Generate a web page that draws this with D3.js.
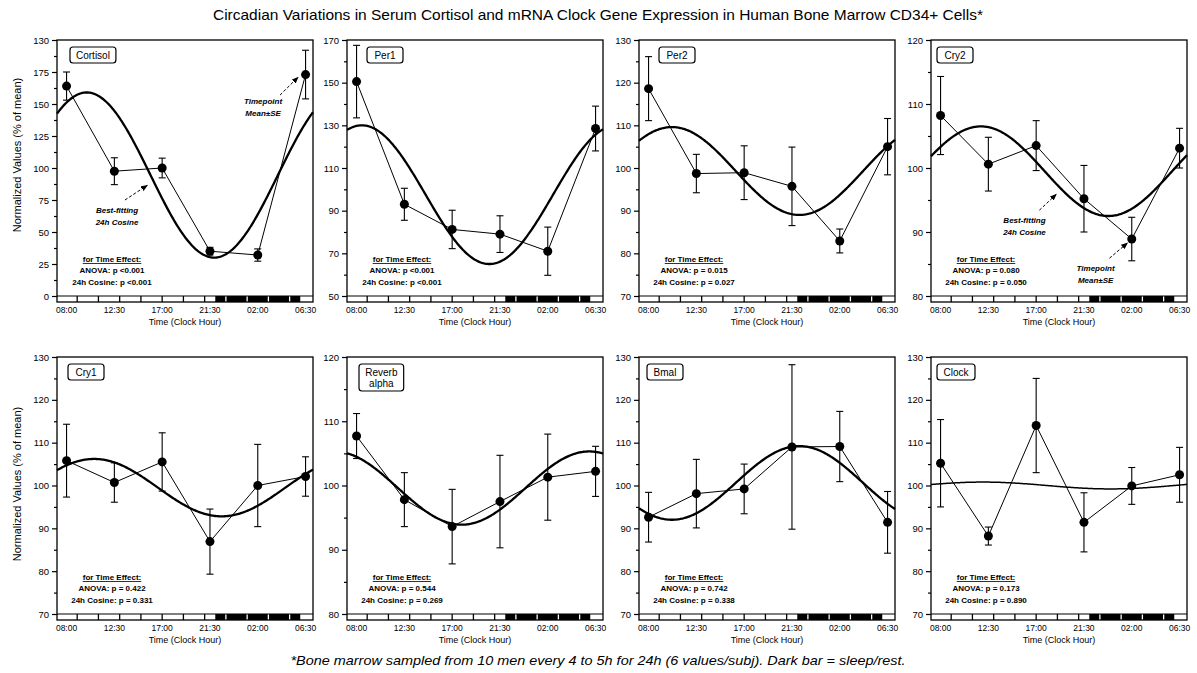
<!DOCTYPE html>
<html lang="en">
<head>
<meta charset="utf-8">
<title>Circadian Variations | Bone Marrow CD34+</title>
<script src="https://cdn.jsdelivr.net/npm/d3@7"></script>
<style>
  body { margin: 0; background: #fff; }
  svg { font-family: "Liberation Sans", Arial, sans-serif; }
</style>
</head>
<body>
<svg id="chart" width="1197" height="673"></svg>
<script>

/////////////////////
// Data
// sample times in clock hours (02:00 and 06:30 are on the next day)
var times = [8, 12.5, 17, 21.5, 26, 30.5];
var timeLabels = ["08:00", "12:30", "17:00", "21:30", "02:00", "06:30"];
var sleepStart = 22, sleepEnd = 30;
var barDividers = [9, 11, 13, 15, 17, 19, 21, 23, 25, 27, 29];

var genes = ["Cortisol", "Per1", "Per2", "Cry2", "Cry1", "Reverb alpha", "Bmal", "Clock"];

var means = [
  [164, 97.5, 100, 35, 32, 173],
  [150.5, 93, 81.2, 79, 71, 128.5],
  [118.6, 98.7, 98.9, 95.7, 82.9, 105],
  [108.2, 100.6, 103.5, 95.2, 88.9, 103.1],
  [105.8, 100.7, 105.5, 86.9, 100, 102.1],
  [107.7, 97.8, 93.6, 97.5, 101.3, 102.2],
  [92.6, 98.1, 99.2, 109, 109.1, 91.4],
  [105.2, 88.2, 114, 91.4, 99.9, 102.5]
];
var ses = [
  [11, 10.5, 7.7, 3, 4.8, 19],
  [17, 7.5, 9, 8.6, 11.3, 10.5],
  [7.5, 4.5, 6.3, 9.2, 2.8, 6.6],
  [6.1, 4.2, 3.9, 5.2, 3.4, 3.1],
  [8.5, 4.6, 6.8, 7.6, 9.6, 4.6],
  [3.5, 4.2, 5.8, 7.2, 6.7, 3.9],
  [5.8, 8, 5.8, 19.2, 8.2, 7.2],
  [10.2, 2.1, 11, 6.9, 4.3, 6.4]
];

// best-fitting 24h cosine: mesor, amplitude, acrophase (clock hour)
var cosMesor = [94.5, 97.5, 99.3, 99.5, 99.5, 99.6, 100.6, 100];
var cosAmp   = [64.5, 32.5, 10.3, 7, 6.7, 5.7, 8.6, 0.8];
var cosAcro  = [9.9, 8.5, 10.2, 11.8, 10.6, 29.9, 22.2, 12];

var anovaP  = ["p <0.001", "p <0.001", "p = 0.015", "p = 0.080", "p = 0.422", "p = 0.544", "p = 0.742", "p = 0.173"];
var cosineP = ["p <0.001", "p <0.001", "p = 0.027", "p = 0.050", "p = 0.331", "p = 0.269", "p = 0.338", "p = 0.890"];

var yDomains = [[0, 200], [50, 170], [70, 130], [80, 120], [70, 130], [80, 120], [70, 130], [70, 130]];
var yMajor = [25, 20, 10, 10, 10, 10, 10, 10];
// the cortisol panel prints "130" at its top tick
var cortisolTickText = ["0", "25", "50", "75", "100", "125", "150", "175", "130"];

// arrow notes: panel, text lines, text anchor [hour, value], arrow from/to [hour, value]
var notes = [
  {panel: 0, lines: ["Best-fitting", "24h Cosine"], at: [12.75, 67], from: [13.5, 75], to: [15.6, 86.5]},
  {panel: 0, lines: ["Timepoint", "Mean\u00b1SE"], at: [26.5, 152], from: [28.1, 157], to: [29.8, 171]},
  {panel: 3, lines: ["Best-fitting", "24h Cosine"], at: [15.9, 91.9], from: [17.3, 93.4], to: [18.9, 95.9]},
  {panel: 3, lines: ["Timepoint", "Mean\u00b1SE"], at: [22.6, 84.4], from: [23.9, 85.9], to: [25.6, 88.3]}
];

/////////////////////
// Layout
var svg = d3.select("#chart");
var panelLeft = [57, 347, 639, 931],
    panelW = 256,
    rowTop = [40, 357],
    rowBottom = [296, 614],
    barH = 6;
var labelBoxX = [13, 20, 20, 6, 11, 12, 8, 6];
var xDomain = [7.1, 31.2];

svg.append("defs").append("marker")
    .attr("id", "arrow")
    .attr("viewBox", "0 0 10 10")
    .attr("refX", 9).attr("refY", 5)
    .attr("markerWidth", 7).attr("markerHeight", 7)
    .attr("orient", "auto")
  .append("path")
    .attr("d", "M0,1 L10,5 L0,9 Z")
    .attr("fill", "#000");

// title + footnote
svg.append("text")
    .attr("x", 598).attr("y", 20)
    .attr("text-anchor", "middle")
    .attr("font-size", 15)
    .attr("textLength", 770).attr("lengthAdjust", "spacingAndGlyphs")
    .text("Circadian Variations in Serum Cortisol and mRNA Clock Gene Expression in Human Bone Marrow CD34+ Cells*");

svg.append("text")
    .attr("x", 598).attr("y", 665)
    .attr("text-anchor", "middle")
    .attr("font-size", 13).attr("font-style", "italic")
    .attr("textLength", 615).attr("lengthAdjust", "spacingAndGlyphs")
    .text("*Bone marrow sampled from 10 men every 4 to 5h for 24h (6 values/subj). Dark bar = sleep/rest.");

// y titles, one per row
rowTop.forEach(function(t, r) {
  var cy = r === 0 ? 155 : 484;
  svg.append("text")
      .attr("transform", "translate(18," + cy + ") rotate(-90)")
      .attr("text-anchor", "middle")
      .attr("dominant-baseline", "middle")
      .attr("font-size", 11)
      .text("Normalized Values (% of mean)");
});

genes.forEach(function(gene, i) {
  var row = Math.floor(i / 4), col = i % 4;
  var left = panelLeft[col], top = rowTop[row], bottom = rowBottom[row];

  var x = d3.scaleLinear().domain(xDomain).range([left, left + panelW]);
  var y = d3.scaleLinear().domain(yDomains[i]).range([bottom, top]);

  var g = svg.append("g");

  // y axis, majors and minors
  var step = yMajor[i];
  var majors = d3.range(yDomains[i][0], yDomains[i][1] + 0.001, step);
  var minors = d3.range(yDomains[i][0] + step / 2, yDomains[i][1], step);

  var yAxis = d3.axisLeft(y).tickValues(majors).tickSize(5).tickPadding(3)
      .tickFormat(function(d, k) { return i === 0 ? cortisolTickText[k] : d; });
  var ya = g.append("g").attr("transform", "translate(" + left + ",0)").call(yAxis);
  ya.select(".domain").remove();
  ya.selectAll("text").attr("font-size", 9.5).attr("font-family", "Liberation Sans, Arial, sans-serif");
  ya.selectAll("line").attr("stroke-width", 1.2);

  var ym = g.append("g").attr("transform", "translate(" + left + ",0)")
      .call(d3.axisLeft(y).tickValues(minors).tickSize(3).tickFormat(""));
  ym.select(".domain").remove();
  ym.selectAll("line").attr("stroke-width", 1.2);

  // sleep / wake bar
  g.append("rect")
      .attr("x", x(xDomain[0])).attr("y", bottom)
      .attr("width", x(xDomain[1]) - x(xDomain[0])).attr("height", barH)
      .attr("fill", "#fff");
  g.append("rect")
      .attr("x", x(sleepStart)).attr("y", bottom)
      .attr("width", x(sleepEnd) - x(sleepStart)).attr("height", barH)
      .attr("fill", "#000");
  g.selectAll(".div").data(barDividers).enter().append("line")
      .attr("x1", function(d) { return x(d); }).attr("x2", function(d) { return x(d); })
      .attr("y1", bottom).attr("y2", bottom + barH)
      .attr("stroke", function(d) { return d > sleepStart && d < sleepEnd ? "#fff" : "#000"; })
      .attr("stroke-width", 1.3);
  g.append("line")
      .attr("x1", left).attr("x2", left + panelW)
      .attr("y1", bottom).attr("y2", bottom)
      .attr("stroke", "#000").attr("stroke-width", 1.2);

  // frame
  g.append("rect")
      .attr("x", left).attr("y", top)
      .attr("width", panelW).attr("height", bottom + barH - top)
      .attr("fill", "none").attr("stroke", "#000").attr("stroke-width", 1.3);

  // x labels
  g.selectAll(".xl").data(times).enter().append("text")
      .attr("x", function(d) { return x(d); })
      .attr("y", bottom + barH + 11)
      .attr("text-anchor", "middle")
      .attr("font-size", 8.5)
      .text(function(d, k) { return timeLabels[k]; });
  g.append("text")
      .attr("x", left + panelW / 2).attr("y", bottom + barH + 23)
      .attr("text-anchor", "middle")
      .attr("font-size", 9)
      .text("Time (Clock Hour)");

  // cosine fit
  var hours = d3.range(xDomain[0], xDomain[1] + 0.001, 0.1);
  var cosine = d3.line()
      .x(function(h) { return x(h); })
      .y(function(h) { return y(cosMesor[i] + cosAmp[i] * Math.cos(2 * Math.PI * (h - cosAcro[i]) / 24)); });
  g.append("path")
      .attr("d", cosine(hours))
      .attr("fill", "none").attr("stroke", "#000")
      .attr("stroke-width", i === 7 ? 1.5 : 2.3);

  // means joined by a thin line
  var pts = times.map(function(t, k) { return {t: t, m: means[i][k], s: ses[i][k]}; });
  g.append("path")
      .attr("d", d3.line().x(function(d) { return x(d.t); }).y(function(d) { return y(d.m); })(pts))
      .attr("fill", "none").attr("stroke", "#000").attr("stroke-width", 1);

  // error bars
  var eb = g.selectAll(".eb").data(pts).enter().append("g");
  eb.append("line")
      .attr("x1", function(d) { return x(d.t); }).attr("x2", function(d) { return x(d.t); })
      .attr("y1", function(d) { return y(d.m + d.s); }).attr("y2", function(d) { return y(d.m - d.s); })
      .attr("stroke", "#000").attr("stroke-width", 1.1);
  [1, -1].forEach(function(sgn) {
    eb.append("line")
        .attr("x1", function(d) { return x(d.t) - 3.5; }).attr("x2", function(d) { return x(d.t) + 3.5; })
        .attr("y1", function(d) { return y(d.m + sgn * d.s); }).attr("y2", function(d) { return y(d.m + sgn * d.s); })
        .attr("stroke", "#000").attr("stroke-width", 1.1);
  });
  eb.append("circle")
      .attr("cx", function(d) { return x(d.t); })
      .attr("cy", function(d) { return y(d.m); })
      .attr("r", 4.5)
      .attr("fill", "#000");

  // gene label box
  var lines = gene === "Reverb alpha" ? ["Reverb", "alpha"] : [gene];
  var bx = left + labelBoxX[i], by = top + 7;
  var box = g.append("rect");
  var lbl = g.append("text").attr("font-size", 10).attr("text-anchor", "middle");
  lines.forEach(function(s, k) {
    lbl.append("tspan").attr("x", 0).attr("y", by + 11.5 + k * 11).text(s);
  });
  var bw = Math.max(lbl.node().getBBox().width + 12, 36);
  lbl.selectAll("tspan").attr("x", bx + bw / 2);
  box.attr("x", bx).attr("y", by)
      .attr("width", bw).attr("height", 4 + lines.length * 11 + 1)
      .attr("rx", 3)
      .attr("fill", "#fff").attr("stroke", "#000").attr("stroke-width", 1.2);

  // stats text
  var sx = left + 55;
  g.append("text")
      .attr("x", sx).attr("y", bottom - 34)
      .attr("text-anchor", "middle").attr("font-size", 8).attr("font-weight", "bold")
      .attr("text-decoration", "underline")
      .text("for Time Effect:");
  g.append("text")
      .attr("x", sx).attr("y", bottom - 23)
      .attr("text-anchor", "middle").attr("font-size", 8).attr("font-weight", "bold")
      .text("ANOVA: " + anovaP[i]);
  g.append("text")
      .attr("x", sx).attr("y", bottom - 11)
      .attr("text-anchor", "middle").attr("font-size", 8).attr("font-weight", "bold")
      .text("24h Cosine: " + cosineP[i]);

  // arrow notes
  notes.filter(function(n) { return n.panel === i; }).forEach(function(n) {
    var t = g.append("text")
        .attr("text-anchor", "middle").attr("font-size", 8)
        .attr("font-style", "italic").attr("font-weight", "bold");
    n.lines.forEach(function(s, k) {
      t.append("tspan").attr("x", x(n.at[0])).attr("y", y(n.at[1]) + 3 + k * 12).text(s);
    });
    g.append("line")
        .attr("x1", x(n.from[0])).attr("y1", y(n.from[1]))
        .attr("x2", x(n.to[0])).attr("y2", y(n.to[1]))
        .attr("stroke", "#000").attr("stroke-width", 1)
        .attr("stroke-dasharray", "3,2")
        .attr("marker-end", "url(#arrow)");
  });
});

</script>
</body>
</html>
